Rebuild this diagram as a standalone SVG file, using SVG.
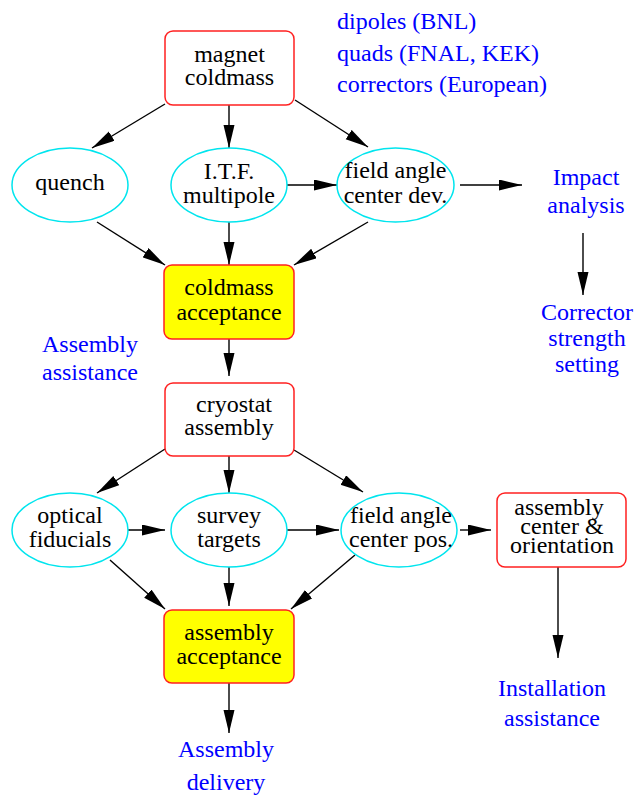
<svg xmlns="http://www.w3.org/2000/svg" width="636" height="796" viewBox="0 0 636 796">
<style>
text{font-family:"Liberation Serif","Times New Roman",serif;font-size:24px;text-anchor:middle;fill:#000}
.blue{fill:#0000ff}
.box{fill:#fff;stroke:#ff2020;stroke-width:1.5}
.acc{fill:#ffff00;stroke:#ff2020;stroke-width:1.5}
.ell{fill:#fff;stroke:#00e5ee;stroke-width:1.5}
.edge{stroke:#000;stroke-width:1.4;fill:none;marker-end:url(#arr)}
</style>
<defs>
<marker id="arr" markerUnits="userSpaceOnUse" markerWidth="24" markerHeight="12" refX="23" refY="5.5" orient="auto">
<path d="M0,0 L23,5.5 L0,11 z" fill="#000"/>
</marker>
</defs>
<g id="connectors">
<line class="edge" x1="165" y1="104" x2="92" y2="148"/>
<line class="edge" x1="229" y1="105" x2="229" y2="148"/>
<line class="edge" x1="295" y1="100" x2="368" y2="147"/>
<line class="edge" x1="97" y1="222" x2="165" y2="265"/>
<line class="edge" x1="229" y1="222" x2="229" y2="265"/>
<line class="edge" x1="368" y1="222" x2="294" y2="265"/>
<line class="edge" x1="287" y1="185" x2="337" y2="185"/>
<line class="edge" x1="460" y1="185" x2="522" y2="185"/>
<line class="edge" x1="583" y1="233" x2="583" y2="295"/>
<line class="edge" x1="229" y1="339" x2="229" y2="376"/>
<line class="edge" x1="165" y1="449" x2="97" y2="493"/>
<line class="edge" x1="229" y1="456" x2="229" y2="493"/>
<line class="edge" x1="294" y1="450" x2="363" y2="492"/>
<line class="edge" x1="128" y1="530" x2="165" y2="530"/>
<line class="edge" x1="287" y1="530" x2="339" y2="530"/>
<line class="edge" x1="460" y1="530" x2="491" y2="530"/>
<line class="edge" x1="110" y1="560" x2="165" y2="609"/>
<line class="edge" x1="229" y1="567" x2="229" y2="606"/>
<line class="edge" x1="355" y1="555" x2="291" y2="609"/>
<line class="edge" x1="558" y1="567" x2="558" y2="658"/>
<line class="edge" x1="229" y1="683" x2="229" y2="733"/>
</g>
<g id="magnet_coldmass">
<rect class="box" x="165" y="31" width="129" height="74" rx="8"/>
<text x="229.5" y="62">magnet</text>
<text x="229.5" y="85">coldmass</text>
</g>
<g id="quench">
<ellipse class="ell" cx="70" cy="185" rx="58" ry="37"/>
<text x="70" y="190">quench</text>
</g>
<g id="itf_multipole">
<ellipse class="ell" cx="229" cy="185" rx="58" ry="37"/>
<text x="229" y="179">I.T.F.</text>
<text x="229" y="203">multipole</text>
</g>
<g id="field_angle_dev">
<ellipse class="ell" cx="395.5" cy="185" rx="58.5" ry="37"/>
<text x="395.5" y="178">field angle</text>
<text x="395.5" y="203">center dev.</text>
</g>
<g id="impact_analysis">
<text class="blue" x="586" y="185">Impact</text>
<text class="blue" x="586" y="213">analysis</text>
</g>
<g id="corrector_setting">
<text class="blue" x="587" y="320">Corrector</text>
<text class="blue" x="587" y="346">strength</text>
<text class="blue" x="587" y="372">setting</text>
</g>
<g id="magnet_types">
<text class="blue" x="337" y="29" style="text-anchor:start">dipoles (BNL)</text>
<text class="blue" x="337" y="61" style="text-anchor:start">quads (FNAL, KEK)</text>
<text class="blue" x="337" y="92" style="text-anchor:start">correctors (European)</text>
</g>
<g id="coldmass_acceptance">
<rect class="acc" x="164" y="265" width="130" height="74" rx="8"/>
<text x="229" y="295">coldmass</text>
<text x="229" y="320">acceptance</text>
</g>
<g id="assembly_assistance">
<text class="blue" x="90" y="352">Assembly</text>
<text class="blue" x="90" y="380">assistance</text>
</g>
<g id="cryostat_assembly">
<rect class="box" x="165" y="383" width="129" height="73" rx="8"/>
<text x="234" y="412">cryostat</text>
<text x="229" y="435">assembly</text>
</g>
<g id="optical_fiducials">
<ellipse class="ell" cx="70" cy="530" rx="58" ry="37"/>
<text x="70" y="523">optical</text>
<text x="70" y="547">fiducials</text>
</g>
<g id="survey_targets">
<ellipse class="ell" cx="229" cy="530" rx="58" ry="37"/>
<text x="229" y="523">survey</text>
<text x="229" y="547">targets</text>
</g>
<g id="field_angle_pos">
<ellipse class="ell" cx="399" cy="530" rx="58" ry="37"/>
<text x="401" y="523">field angle</text>
<text x="401" y="547">center pos.</text>
</g>
<g id="assembly_center">
<rect class="box" x="497" y="493" width="129" height="74" rx="8"/>
<text x="559" y="515">assembly</text>
<text x="562" y="534">center &amp;</text>
<text x="562" y="553">orientation</text>
</g>
<g id="installation_assistance">
<text class="blue" x="552" y="696">Installation</text>
<text class="blue" x="552" y="726">assistance</text>
</g>
<g id="assembly_acceptance">
<rect class="acc" x="164" y="610" width="130" height="73" rx="8"/>
<text x="229" y="640">assembly</text>
<text x="229" y="664">acceptance</text>
</g>
<g id="assembly_delivery">
<text class="blue" x="226" y="757">Assembly</text>
<text class="blue" x="226" y="790">delivery</text>
</g>
</svg>
